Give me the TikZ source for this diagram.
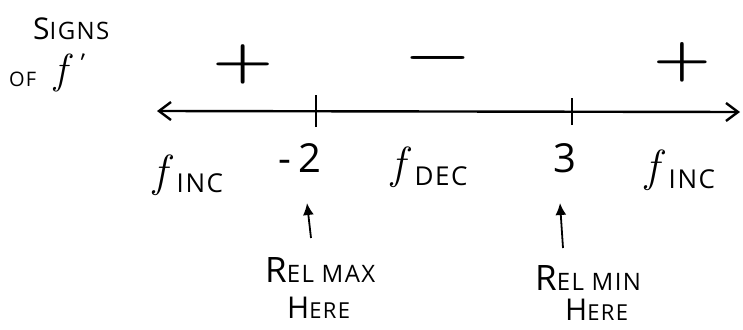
\documentclass[tikz,border=0pt]{standalone}
\usepackage{fontspec}
\usepackage{graphicx}
\newfontfamily\hand{Open Sans}[LetterSpace=6]
\usetikzlibrary{arrows.meta}
\newcommand{\hs}[2]{{\hand\fontsize{#1}{#1}\selectfont #2}}
\newcommand{\ff}[1]{{\fontsize{#1}{#1}\selectfont\itshape f}}
\begin{document}
\begin{tikzpicture}[x=1pt,y=-1pt,
  ink/.style={line width=2.4pt, black},
  lbl/.style={inner sep=0pt, anchor=base west},
  sgn/.style={inner sep=0pt, font=\bfseries},
  ptr/.style={line width=1.8pt, -{Latex[length=12pt,width=11pt]}}]
\useasboundingbox (0,0) rectangle (743,329);
% title
\node[lbl] (signs) at (33,40) {\hs{30}{S}\hs{24}{IGNS}};
\node[lbl] (off) at (9,86) {\hs{20}{OF}\hspace{18pt}\raisebox{3pt}{\ff{42}}\hspace{8pt}\raisebox{16pt}{\rotatebox{-20}{\hs{26}{\char"0027}}}};
% signs
\node[sgn] (p1) at (243,64) {\fontsize{70}{70}\selectfont\scalebox{1}[0.75]{+}};
\node[sgn] (mi) at (438,64) {\fontsize{72}{72}\selectfont\scalebox{1}[0.75]{−}};
\node[sgn] (p2) at (682,62) {\fontsize{66}{66}\selectfont\scalebox{1}[0.8]{+}};
% number line
\coordinate (L) at (157,111);
\coordinate (R) at (740,112);
\coordinate (t1) at (316,111);
\coordinate (t2) at (572,111);
\draw[ink, {Straight Barb[length=12pt,width=18pt]}-{Straight Barb[length=12pt,width=18pt]}] (L) -- (R);
\draw[ink, line width=2.6pt] ([yshift=-16pt]t1) -- ([yshift=16pt]t1);
\draw[ink] ([yshift=-14pt]t2) -- ([yshift=13pt]t2);
% labels below line
\node[lbl] (fi1) at (153,192) {\raisebox{6pt}{\ff{45}}\hspace{10pt}\hs{26}{INC}};
\node[inner sep=0pt, anchor=base] (m2) at (300,172) {\hs{40}{-\,2}};
\node[lbl] (fd) at (391,185) {\raisebox{7pt}{\ff{45}}\hspace{10pt}\hs{26}{DEC}};
\node[inner sep=0pt, anchor=base] (th) at (565,172) {\hs{40}{3}};
\node[lbl] (fi2) at (645,188) {\raisebox{7pt}{\ff{45}}\hspace{10pt}\hs{26}{INC}};
% arrows
\coordinate (a1s) at (311,238);
\coordinate (a1e) at (307,203);
\coordinate (a2s) at (563,248);
\coordinate (a2e) at (560,203);
\draw[ptr] (a1s) -- (a1e);
\draw[ptr] (a2s) -- (a2e);
% captions
\node[lbl] (rmax) at (265,282) {\hs{35}{R}\hs{24}{EL MAX}};
\node[lbl] (h1) at (287,318) {\hs{30}{H}\hs{22}{ERE}};
\node[lbl] (rmin) at (535,290) {\hs{35}{R}\hs{24}{EL MIN}};
\node[lbl] (h2) at (565,320) {\hs{30}{H}\hs{22}{ERE}};
\end{tikzpicture}
\end{document}
